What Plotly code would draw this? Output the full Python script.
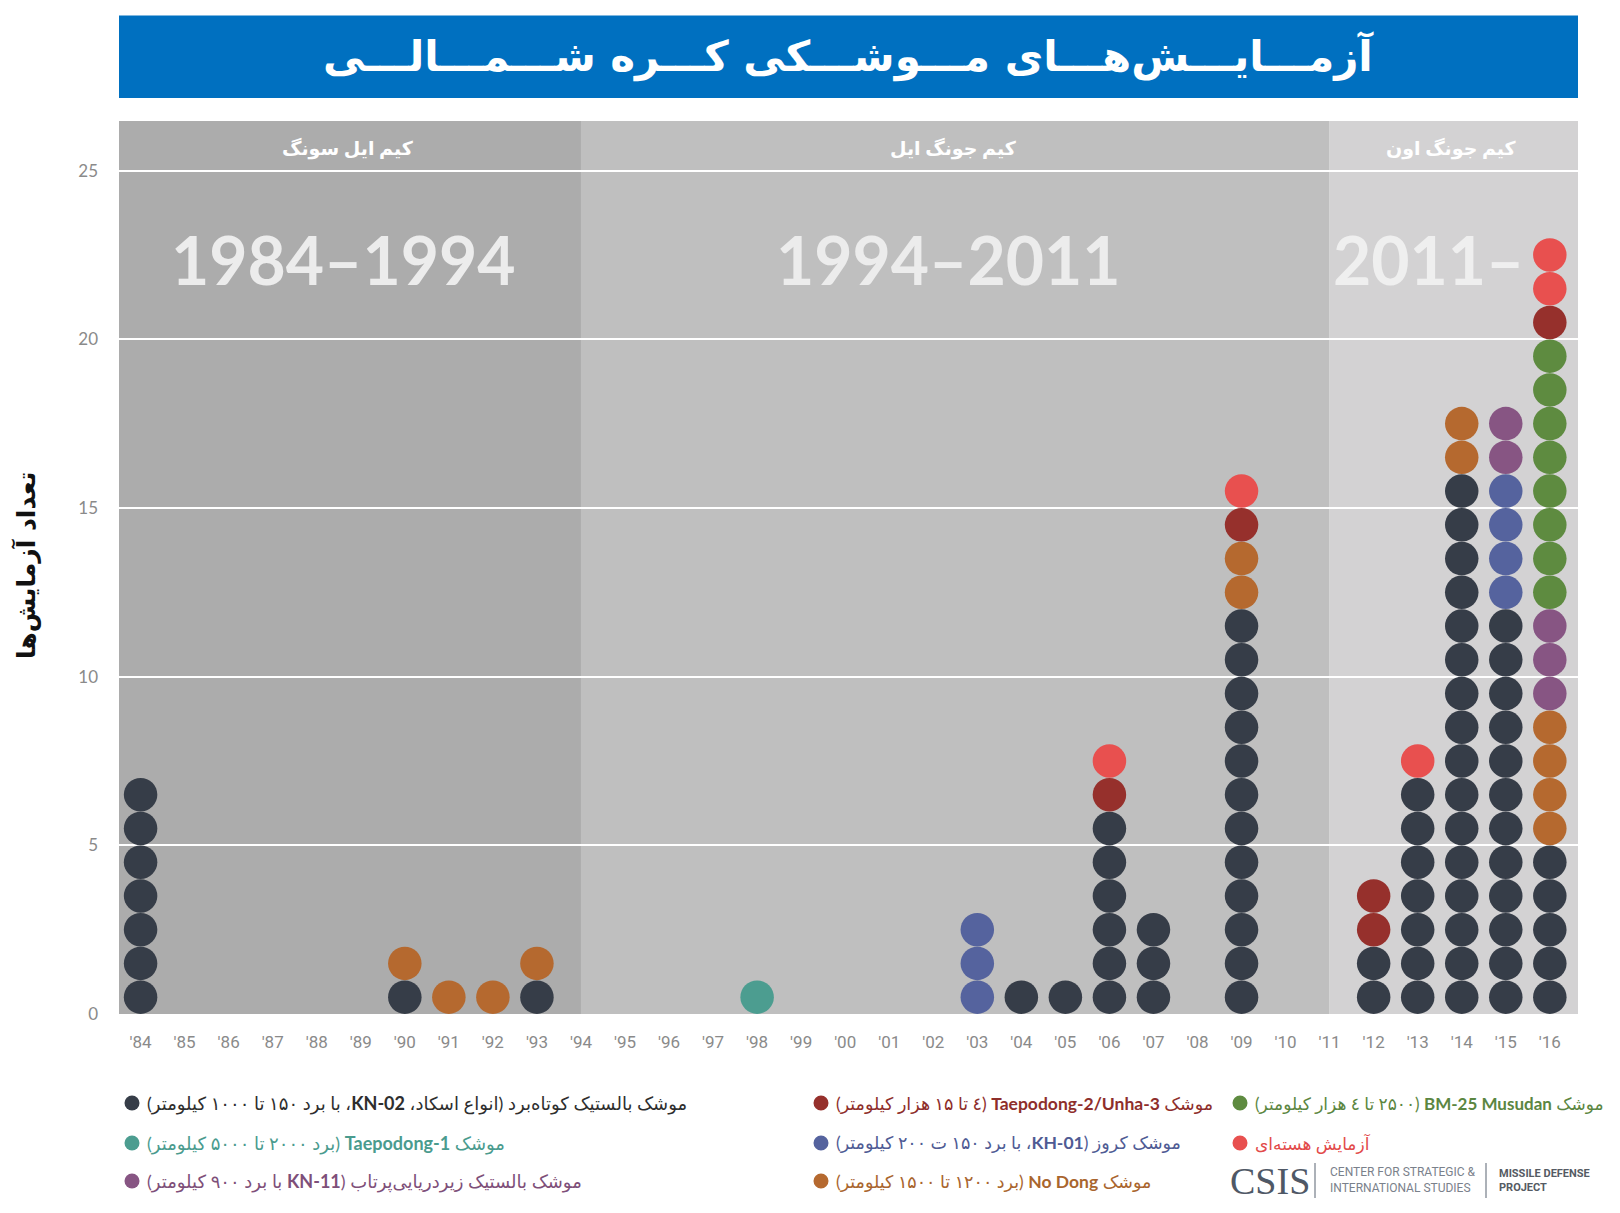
import plotly.graph_objects as go

# ---------------- data ----------------
years = ["'84", "'85", "'86", "'87", "'88", "'89", "'90", "'91", "'92", "'93", "'94",
         "'95", "'96", "'97", "'98", "'99", "'00", "'01", "'02", "'03", "'04", "'05",
         "'06", "'07", "'08", "'09", "'10", "'11", "'12", "'13", "'14", "'15", "'16"]

# counts of tests per year (stacking order bottom -> top)
srbm = {"'84": 7, "'90": 1, "'93": 1, "'04": 1, "'05": 1, "'06": 6, "'07": 3, "'09": 12,
        "'12": 2, "'13": 7, "'14": 16, "'15": 12, "'16": 5}
cruise = {"'03": 3, "'15": 4}
nodong = {"'90": 1, "'91": 1, "'92": 1, "'93": 1, "'09": 2, "'14": 2, "'16": 4}
slbm = {"'15": 2, "'16": 3}
musudan = {"'16": 8}
taepodong1 = {"'98": 1}
taepodong2 = {"'06": 1, "'09": 1, "'12": 2, "'16": 1}
nuclear = {"'06": 1, "'09": 1, "'13": 1, "'16": 2}

series_order = ["srbm", "cruise", "nodong", "slbm", "musudan", "taepodong1", "taepodong2", "nuclear"]
series_data = {"srbm": srbm, "cruise": cruise, "nodong": nodong, "slbm": slbm, "musudan": musudan,
               "taepodong1": taepodong1, "taepodong2": taepodong2, "nuclear": nuclear}
colors = {"srbm": "#363d48", "cruise": "#55639e", "nodong": "#b5692f", "slbm": "#875583",
          "musudan": "#5e8b40", "taepodong1": "#4c9d90", "taepodong2": "#96302c", "nuclear": "#e8504f"}

eras = [("کیم ایل سونگ", "1984–1994", "'84", "'94"),
        ("کیم جونگ ایل", "1994–2011", "'94", "'11"),
        ("کیم جونگ اون", "2011–", "'11", "'16")]

y_ticks = [0, 5, 10, 15, 20, 25]

title_text = "آزمـــایـــش‌هـــای مـــوشـــکی کـــره شـــمـــالـــی"
y_title = "تعداد آزمایش‌ها"

legend_items = [
    ("srbm", "موشک بالستیک کوتاه‌برد (انواع اسکاد، <b>KN-02</b>، با برد ۱۵۰ تا ۱۰۰۰ کیلومتر)", "#2e2e2e", 0, 0),
    ("taepodong1", "موشک <b>Taepodong-1</b> (برد ۲۰۰۰ تا ۵۰۰۰ کیلومتر)", "#4a9b8e", 0, 1),
    ("slbm", "موشک بالستیک زیردریایی‌پرتاب (<b>KN-11</b> با برد ۹۰۰ کیلومتر)", "#7e4f79", 0, 2),
    ("taepodong2", "موشک <b>Taepodong-2/Unha-3</b> (٤ تا ۱۵ هزار کیلومتر)", "#8e2e2b", 1, 0),
    ("cruise", "موشک کروز (<b>KH-01</b>، با برد ۱۵۰ ت ۲۰۰ کیلومتر)", "#4f5b94", 1, 1),
    ("nodong", "موشک <b>No Dong</b> (برد ۱۲۰۰ تا ۱۵۰۰ کیلومتر)", "#a9652e", 1, 2),
    ("musudan", "موشک <b>BM-25 Musudan</b> (۲۵۰۰ تا ٤ هزار کیلومتر)", "#5b8641", 2, 0),
    ("nuclear", "آزمایش هسته‌ای", "#e24a4a", 2, 1),
]

# ---------------- layout geometry ----------------
FIG_W, FIG_H = 1620, 1213
L, R, T, B = 119, 1578, 121, 1014
PW, PH = R - L, B - T
X_RANGE = [-0.49, 32.64]
Y_RANGE = [0, 26.47]


def px2x(px):
    return (px - L) / PW


def px2y(py):
    return (B - py) / PH


RLE, PDF = "\u202b", "\u202c"
FA = "Lato, DejaVu Sans, sans-serif"

fig = go.Figure()

# stacked dots
base = {y: 0 for y in years}
for key in series_order:
    xs, ys = [], []
    for y in years:
        n = series_data[key].get(y, 0)
        for i in range(n):
            xs.append(y)
            ys.append(base[y] + i + 0.5)
        base[y] += n
    fig.add_trace(go.Scatter(x=xs, y=ys, mode="markers",
                             marker=dict(size=33.5, color=colors[key], line=dict(width=0)),
                             hoverinfo="skip", showlegend=False))

shapes = []
annotations = []

# era backgrounds
era_colors = ["#acacac", "#bfbfbf", "#d3d2d3"]
for i, (leader, span, start, end) in enumerate(eras):
    x0 = X_RANGE[0] if i == 0 else years.index(start)
    x1 = X_RANGE[1] if i == len(eras) - 1 else years.index(end)
    shapes.append(dict(type="rect", xref="x", yref="y", x0=x0, x1=x1, y0=Y_RANGE[0], y1=Y_RANGE[1],
                       fillcolor=era_colors[i], line=dict(width=0), layer="below"))
    mid = (x0 + x1) / 2
    annotations.append(dict(xref="x", yref="y", x=mid - 0.05, y=25.68, text="<b>" + RLE + leader + PDF + "</b>",
                            showarrow=False, font=dict(family=FA, size=19, color="white")))
    if i < len(eras) - 1:
        annotations.append(dict(xref="x", yref="y", x=mid - 0.15, y=22.35, text="<b>" + span + "</b>",
                                showarrow=False, font=dict(family="Lato", size=66, color="#ececec")))
    else:
        annotations.append(dict(xref="x", yref="y", x=31.45, xanchor="right", y=22.35, text="<b>" + span + "</b>",
                                showarrow=False, font=dict(family="Lato", size=66, color="#efefef")))

# title band
shapes.append(dict(type="rect", xref="paper", yref="paper", x0=0, x1=1, y0=px2y(98), y1=px2y(15.5),
                   fillcolor="#0070c0", line=dict(width=0)))
annotations.append(dict(xref="paper", yref="paper", x=px2x(848), xanchor="center", y=px2y(56), yanchor="middle",
                        text="<b>" + RLE + title_text + PDF + "</b>", showarrow=False,
                        font=dict(family="DejaVu Sans", size=42, color="white")))

# y axis title
annotations.append(dict(xref="paper", yref="paper", x=px2x(26), xanchor="center", y=px2y(565), yanchor="middle",
                        textangle=-90, text="<b>" + RLE + y_title + PDF + "</b>", showarrow=False,
                        font=dict(family="DejaVu Sans", size=25, color="#111111")))

# legend
col_dot_x = [132, 821, 1240]
col_font = [18, 17.5, 17]
row_y = [1103, 1143, 1181]
for key, txt, tcol, c, r in legend_items:
    cx, cy = col_dot_x[c], row_y[r]
    shapes.append(dict(type="circle", xref="paper", yref="paper", xsizemode="pixel", ysizemode="pixel",
                       xanchor=px2x(cx), yanchor=px2y(cy), x0=-7.5, x1=7.5, y0=-7.5, y1=7.5,
                       fillcolor=colors[key], line=dict(width=0)))
    annotations.append(dict(xref="paper", yref="paper", x=px2x(cx + 13), xanchor="left",
                            y=px2y(cy), yanchor="middle", text=RLE + txt + PDF, showarrow=False,
                            font=dict(family=FA, size=col_font[c], color=tcol)))

# CSIS logo
annotations.append(dict(xref="paper", yref="paper", x=px2x(1228), xanchor="left", y=px2y(1181), yanchor="middle",
                        text="CSIS", showarrow=False,
                        font=dict(family="Liberation Serif", size=38, color="#4f5866")))
for xl in (1315, 1486):
    shapes.append(dict(type="line", xref="paper", yref="paper", x0=px2x(xl), x1=px2x(xl),
                       y0=px2y(1163), y1=px2y(1198), line=dict(color="#9097a0", width=1.5)))
annotations.append(dict(xref="paper", yref="paper", x=px2x(1328), xanchor="left", y=px2y(1180), yanchor="middle",
                        text="CENTER FOR STRATEGIC &amp;<br>INTERNATIONAL STUDIES", align="left", showarrow=False,
                        font=dict(family="Liberation Sans Narrow, Roboto", size=12, color="#7a818b")))
annotations.append(dict(xref="paper", yref="paper", x=px2x(1497), xanchor="left", y=px2y(1180), yanchor="middle",
                        text="<b>MISSILE DEFENSE<br>PROJECT</b>", align="left", showarrow=False,
                        font=dict(family="Roboto", size=11, color="#555b63")))

fig.update_layout(
    width=FIG_W, height=FIG_H,
    margin=dict(l=L, r=FIG_W - R, t=T, b=FIG_H - B),
    paper_bgcolor="white", plot_bgcolor="rgba(0,0,0,0)",
    shapes=shapes, annotations=annotations, showlegend=False,
    xaxis=dict(type="category", categoryorder="array", categoryarray=years, range=X_RANGE,
               tickvals=years, ticktext=years, showgrid=False, zeroline=False, showline=False,
               ticks="", ticklabelstandoff=16,
               tickfont=dict(family="Liberation Sans Narrow, Roboto", size=17, color="#8a8a8a")),
    yaxis=dict(range=Y_RANGE, tickvals=y_ticks, showgrid=True, gridcolor="white", gridwidth=2,
               zeroline=False, showline=False, ticks="", ticklabelstandoff=20,
               tickfont=dict(family="Lato", size=17, color="#8a8a8a")),
)

fig.write_html("out.html")
